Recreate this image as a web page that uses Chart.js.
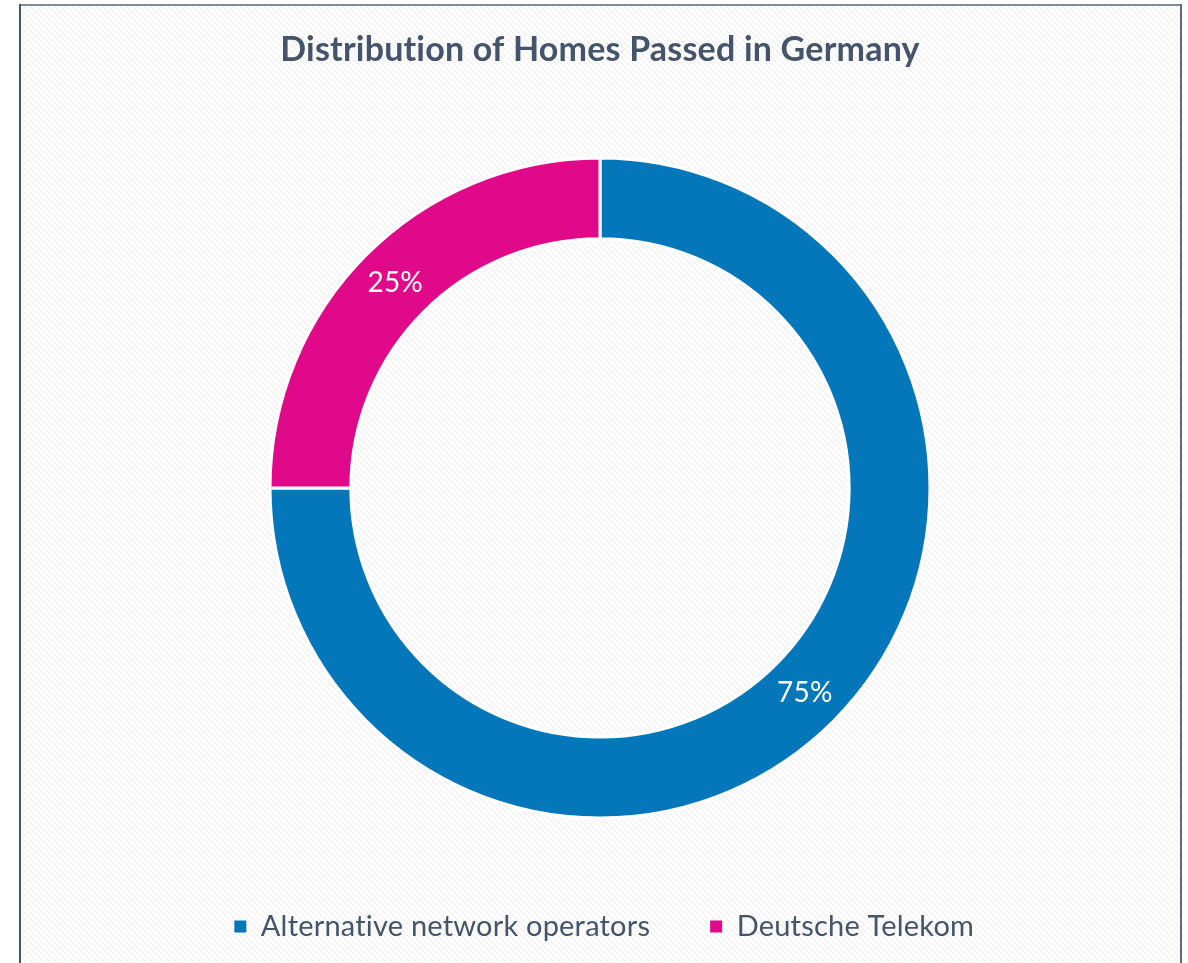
<!DOCTYPE html>
<html>
<head>
<meta charset="utf-8">
<script src="https://cdn.jsdelivr.net/npm/chart.js@4/dist/chart.umd.min.js"></script>
<style>
  html, body { margin: 0; padding: 0; background: #ffffff; }
  #wrap { width: 1188px; height: 963px; position: relative; }
</style>
</head>
<body>
<div id="wrap"><canvas id="homesChart" width="1188" height="963"></canvas></div>
<script>
var labelsOperators = ['Alternative network operators', 'Deutsche Telekom'];
var sharePercent = [75, 25];
var sliceColors = ['#0477BB', '#E0098A'];

var textColor = '#44546A';

// hatched background + frame, drawn behind the chart
var frameBackground = {
  id: 'frameBackground',
  beforeDraw: function (chart) {
    var ctx = chart.ctx;
    var pat = document.createElement('canvas');
    pat.width = 6; pat.height = 6;
    var p = pat.getContext('2d');
    p.fillStyle = '#ffffff';
    p.fillRect(0, 0, 6, 6);
    p.strokeStyle = '#eeeeee';
    p.lineWidth = 1.2;
    p.beginPath();
    p.moveTo(-1, -1); p.lineTo(7, 7);
    p.moveTo(-1, 5); p.lineTo(1, 7);
    p.moveTo(5, -1); p.lineTo(7, 1);
    p.stroke();
    ctx.save();
    ctx.fillStyle = '#ffffff';
    ctx.fillRect(0, 0, chart.width, chart.height);
    ctx.fillStyle = ctx.createPattern(pat, 'repeat');
    ctx.fillRect(21, 6, 1159, chart.height);
    ctx.fillStyle = '#7f8a9c';
    ctx.fillRect(19, 4, 1163, 2);
    ctx.fillStyle = '#44546A';
    ctx.fillRect(19, 4, 2, chart.height);
    ctx.fillStyle = '#5d6a80';
    ctx.fillRect(1180, 4, 2, chart.height);
    ctx.restore();
    // a tiny letter spacing keeps "ti" from turning into a ligature
    ctx.letterSpacing = '0.2px';
  }
};

// percentage labels at the middle of each ring segment
var sliceLabels = {
  id: 'sliceLabels',
  afterDatasetsDraw: function (chart) {
    var ctx = chart.ctx;
    var meta = chart.getDatasetMeta(0);
    ctx.save();
    ctx.font = '28px Lato';
    ctx.fillStyle = '#ffffff';
    ctx.textAlign = 'center';
    ctx.textBaseline = 'middle';
    meta.data.forEach(function (arc, i) {
      var pos = arc.tooltipPosition();
      ctx.fillText(sharePercent[i] + '%', pos.x, pos.y);
    });
    ctx.restore();
  }
};

new Chart(document.getElementById('homesChart'), {
  type: 'doughnut',
  data: {
    labels: labelsOperators,
    datasets: [{
      data: sharePercent,
      backgroundColor: sliceColors,
      borderColor: '#ffffff',
      borderWidth: 3,
      radius: 330,
      cutout: '75.5%'
    }]
  },
  options: {
    responsive: false,
    animation: false,
    layout: { padding: { top: 30, left: 20, right: 8, bottom: 12 } },
    plugins: {
      title: {
        display: true,
        text: 'Distribution of Homes Passed in Germany',
        color: textColor,
        font: { family: 'Lato', size: 34, weight: 'bold' },
        padding: { top: 0, bottom: 53 }
      },
      legend: {
        position: 'bottom',
        labels: {
          color: textColor,
          font: { family: 'Lato', size: 29 },
          boxWidth: 12,
          boxHeight: 12,
          padding: 60,
          generateLabels: function (chart) {
            var items = Chart.overrides.doughnut.plugins.legend.labels.generateLabels(chart);
            items.forEach(function (it) {
              it.lineWidth = 0;
              it.strokeStyle = it.fillStyle;
            });
            return items;
          }
        }
      },
      tooltip: { enabled: false }
    }
  },
  plugins: [frameBackground, sliceLabels]
});
</script>
</body>
</html>
